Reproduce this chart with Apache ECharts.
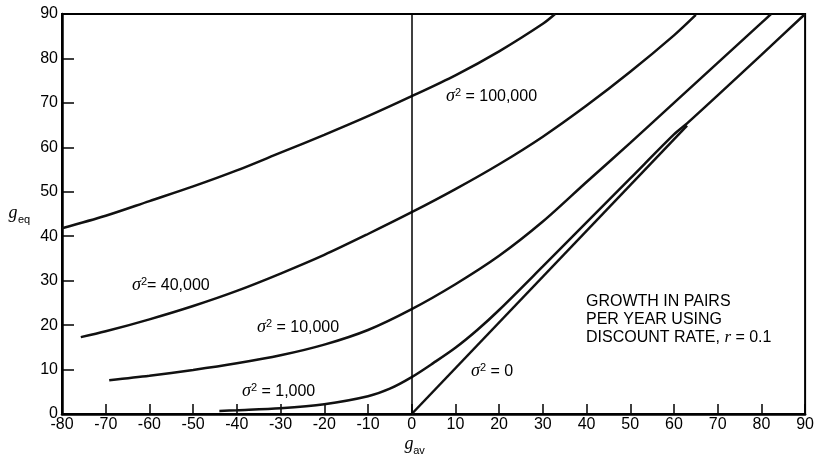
<!DOCTYPE html>
<html>
<head>
<meta charset="utf-8">
<script src="https://cdn.jsdelivr.net/npm/echarts@6/dist/echarts.min.js"></script>
<style>html,body{margin:0;padding:0;background:#fff;}#c{width:817px;height:457px;}</style>
</head>
<body>
<div id="c"></div>
<script>
// Data (g_av, g_eq)
const s100k = [[-80,41.8],[-70,44.6],[-60,47.9],[-50,51.2],[-40,54.8],[-30,58.8],[-20,62.8],[-10,67.0],[0,71.5],[10,76.2],[20,81.6],[30,87.8],[32.8,90]];
const s40k = [[-75.7,17.3],[-70,18.6],[-60,21.3],[-50,24.3],[-40,27.7],[-30,31.6],[-20,35.8],[-10,40.5],[0,45.4],[10,50.6],[20,56.2],[30,62.4],[40,69.4],[50,77.0],[60,85.2],[65,89.8]];
const s10k = [[-69.2,7.6],[-60,8.6],[-50,9.9],[-40,11.4],[-30,13.2],[-20,15.6],[-10,18.9],[0,23.6],[10,29.2],[20,35.6],[30,43.3],[40,52.2],[50,61.0],[60,70.0],[70,79.0],[80,88.0],[82.2,90]];
const s1k = [[-44,0.7],[-40,0.85],[-30,1.3],[-20,2.2],[-10,4.0],[-5,5.7],[0,8.3],[5,11.5],[10,14.9],[15,18.9],[20,23.4],[30,33.2],[40,43.1],[50,53.0],[60,62.9],[63,65.4],[70,71.7],[80,80.8],[90,90]];
const s0 = [[0,0],[63,64.9]];
const xMin = -80, xMax = 90, xStep = 10;
const yMin = 0, yMax = 90, yStep = 10;

const chart = echarts.init(document.getElementById('c'));
const tickFont = {color:'#000', fontSize:16, fontFamily:'Liberation Sans, Arial, sans-serif'};
const lineStyle = {color:'#111', width:2.5};
function curve(data, extra){
  return Object.assign({type:'line', data:data, showSymbol:false, symbol:'none', smooth:0.3, lineStyle:lineStyle, silent:true, animation:false}, extra||{});
}
const sig = function(rest){ return '{s|σ}{p|2}{t|' + rest + '}'; };
const sigRich = {
  s:{fontStyle:'italic', fontFamily:'Liberation Serif, serif', fontSize:18, fill:'#000', verticalAlign:'bottom'},
  p:{fontFamily:'Liberation Sans, sans-serif', fontSize:11, fill:'#000', verticalAlign:'top', lineHeight:12},
  t:{fontFamily:'Liberation Sans, sans-serif', fontSize:16, fill:'#000', verticalAlign:'bottom'}
};
function sigText(x, y, rest){
  return {type:'text', x:x, y:y, silent:true, style:{text:sig(rest), rich:sigRich, verticalAlign:'middle', align:'left'}};
}
const annFont = {fontFamily:'Liberation Sans, sans-serif', fontSize:16, fill:'#000'};
chart.setOption({
  animation:false,
  backgroundColor:'#fff',
  grid:{left:62, right:10, top:14, bottom:43, show:true, borderColor:'#000', borderWidth:2, backgroundColor:'transparent'},
  xAxis:{type:'value', min:xMin, max:xMax, interval:xStep,
    axisLine:{show:true, onZero:false, lineStyle:{color:'#000', width:2.5}},
    axisTick:{show:true, inside:true, length:10, lineStyle:{color:'#000', width:1.5}},
    axisLabel:Object.assign({margin:3}, tickFont),
    splitLine:{show:false}},
  yAxis:{type:'value', min:yMin, max:yMax, interval:yStep,
    axisLine:{show:true, onZero:false, lineStyle:{color:'#000', width:2.5}},
    axisTick:{show:true, inside:true, length:12, lineStyle:{color:'#000', width:1.5}},
    axisLabel:Object.assign({margin:4}, tickFont),
    splitLine:{show:false}},
  series:[
    curve(s100k, {markLine:{silent:true, symbol:['none','none'], label:{show:false}, lineStyle:{color:'#000', width:1.5, type:'solid'}, data:[{xAxis:0}]}}),
    curve(s40k), curve(s10k), curve(s1k),
    curve(s0, {smooth:false})
  ],
  graphic:[
    sigText(446, 96, ' = 100,000'),
    sigText(132, 285, '= 40,000'),
    sigText(257, 327, ' = 10,000'),
    sigText(242, 391, ' = 1,000'),
    sigText(471, 371, ' = 0'),
    {type:'text', x:586, y:302, silent:true, style:Object.assign({text:'GROWTH IN PAIRS', verticalAlign:'middle'}, annFont)},
    {type:'text', x:586, y:320, silent:true, style:Object.assign({text:'PER YEAR USING', verticalAlign:'middle'}, annFont)},
    {type:'text', x:586, y:338, silent:true, style:{text:'{a|DISCOUNT RATE, }{r|r}{a| = 0.1}', verticalAlign:'middle',
      rich:{a:{fontFamily:'Liberation Sans, sans-serif', fontSize:16, fill:'#000'}, r:{fontFamily:'Liberation Serif, serif', fontStyle:'italic', fontSize:17, fill:'#000'}}}},
    {type:'text', x:13, y:213, silent:true, style:{text:'g', fontFamily:'Liberation Serif, serif', fontStyle:'italic', fontSize:18, fill:'#000', align:'center', verticalAlign:'middle'}},
    {type:'text', x:24, y:220, silent:true, style:{text:'eq', fontFamily:'Liberation Sans, sans-serif', fontSize:11, fill:'#000', align:'center', verticalAlign:'middle'}},
    {type:'text', x:409, y:444, silent:true, style:{text:'g', fontFamily:'Liberation Serif, serif', fontStyle:'italic', fontSize:18, fill:'#000', align:'center', verticalAlign:'middle'}},
    {type:'text', x:419, y:451, silent:true, style:{text:'av', fontFamily:'Liberation Sans, sans-serif', fontSize:11, fill:'#000', align:'center', verticalAlign:'middle'}}
  ]
});
</script>
</body>
</html>
